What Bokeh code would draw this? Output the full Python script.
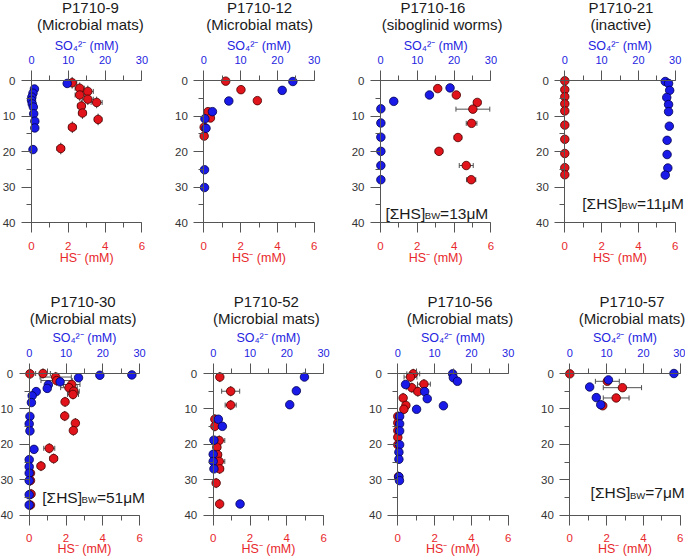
from bokeh.plotting import figure
from bokeh.models import (Range1d, LinearAxis, SingleIntervalTicker, ColumnDataSource,
                          Whisker, TeeHead, Label)
from bokeh.layouts import column, row
from bokeh.embed import file_html
from bokeh.resources import INLINE

FONT = "Liberation Sans"
RED = "#e0141a"
BLUE = "#1a1ae8"
RED_TXT = "#e8282b"
BLUE_TXT = "#2424e0"
AXIS = "#555555"
ERR = "#505050"

# ---------------- data ----------------
titles = ["P1710-9", "P1710-12", "P1710-16", "P1710-21",
          "P1710-30", "P1710-52", "P1710-56", "P1710-57"]
subtitles = ["(Microbial mats)", "(Microbial mats)", "(siboglinid worms)", "(inactive)",
             "(Microbial mats)", "(Microbial mats)", "(Microbial mats)", "(Microbial mats)"]
bw_values = [None, None, "13", "11", "51", None, None, "7"]
hs_title = "HS⁻ (mM)"
so4_title = "SO₄²⁻ (mM)"

# P1710-9
p9_so4 = [9.7, 0.8, 0.4, 0.1, 0.0, 0.2, 0.5, 0.6, 0.9, 0.9, 0.4]
p9_so4_depth = [0.75, 2.3, 3.5, 4.6, 5.5, 6.5, 7.4, 9.3, 11.4, 13.3, 19.4]
p9_hs = [2.21, 2.62, 2.62, 3.06, 3.06, 3.54, 2.71, 2.77, 3.62, 2.22, 1.59]
p9_hs_depth = [0.55, 2.1, 4.0, 3.0, 5.2, 6.1, 7.1, 9.1, 10.9, 13.1, 19.1]
p9_hs_err = [0.25, 0.25, 0.25, 0.3, 0.3, 0.3, 0.2, 0.2, 0.2, 0.2, 0.2]
p9_depth_err = [1.5] * 11

# P1710-12
p12_so4 = [24.2, 21.3, 6.8, 2.35, 0.3, 0.6, 0.2, 0.2]
p12_so4_depth = [0.2, 2.7, 5.7, 8.7, 10.7, 13.4, 25.1, 30.1]
p12_hs = [1.19, 2.02, 2.91, 0.23, 0.36, 0.02, 0.02]
p12_hs_depth = [0.1, 2.5, 5.6, 8.7, 10.5, 13.1, 15.6]
p12_hs_err = [0.0] * 7
p12_depth_err = [0.0] * 7

# P1710-16
p16_so4 = [18.9, 13.3, 3.6, 0.1, 0.1, 0.1, 0.1, 0.1, 0.1]
p16_so4_depth = [2.0, 4.0, 5.8, 7.9, 11.9, 15.9, 19.9, 23.9, 27.9]
p16_hs = [3.11, 4.12, 5.26, 5.02, 4.95, 4.21, 3.18, 4.66, 4.93]
p16_hs_depth = [2.2, 4.0, 6.1, 8.0, 12.0, 16.0, 19.9, 23.9, 27.9]
p16_hs_err = [0.0, 0.0, 0.18, 0.92, 0.29, 0.2, 0.2, 0.38, 0.25]
p16_depth_err = [0.0] * 9

# P1710-21
p21_so4 = [27.3, 28.2, 28.5, 27.7, 28.2, 28.2, 28.4, 27.8, 27.8, 28.0, 27.3]
p21_so4_depth = [0.2, 0.75, 2.7, 4.7, 6.7, 8.7, 12.8, 16.8, 20.8, 24.6, 26.6]
p21_hs = [0.0] * 10
p21_hs_depth = [0.0, 2.5, 4.5, 6.5, 8.5, 12.5, 16.5, 20.5, 24.5, 26.5]
p21_hs_err = [0.0] * 10
p21_depth_err = [0.0] * 10

# P1710-30
p30_so4 = [27.9, 19.2, 13.4, 8.4, 5.2, 4.9, 1.9, 0.8, 0.6, 0.2, 0.0, 0.2, 1.3,
           0.0, 0.0, 0.0, 0.0, 0.0, 0.0]
p30_so4_depth = [0.4, 0.5, 1.2, 2.35, 3.2, 4.2, 5.1, 6.3, 8.2, 12.1, 14.2, 16.2, 21.4,
                 24.3, 26.3, 28.1, 30.2, 34.2, 37.1]
p30_hs = [0.04, 0.75, 1.44, 1.49, 2.31, 2.16, 2.42, 2.38, 1.95, 1.93, 2.51, 2.40,
          1.09, 1.33, 0.64, 0.07, 0.07, 0.10, 0.07]
p30_hs_depth = [0.1, 0.0, 1.0, 2.0, 3.1, 4.0, 5.0, 5.9, 8.0, 12.0, 14.0, 16.1,
                21.1, 24.0, 26.1, 28.1, 30.2, 34.0, 37.1]
p30_hs_err = [0.05, 0.4, 0.85, 0.85, 0.45, 0.45, 0.3, 0.3, 0.15, 0.15, 0.15, 0.15,
              0.3, 0.2, 0.2, 0.1, 0.1, 0.1, 0.1]
p30_depth_err = [1.3] * 19

# P1710-52
p52_so4 = [24.8, 22.6, 20.8, 1.4, 2.5, 0.2, 0.0, 0.0, 0.2, 7.3]
p52_so4_depth = [1.0, 4.9, 8.8, 12.9, 14.9, 18.8, 22.8, 24.8, 26.9, 36.8]
p52_hs = [0.36, 0.95, 0.95, 0.09, 0.09, 0.33, 0.2, 0.24, 0.33, 0.35, 0.16, 0.35]
p52_hs_depth = [1.0, 5.0, 8.9, 12.9, 14.9, 18.9, 20.8, 22.9, 24.8, 26.9, 30.9, 36.8]
p52_hs_err = [0.1, 0.49, 0.3, 0.1, 0.1, 0.3, 0.2, 0.2, 0.3, 0.2, 0.1, 0.1]
p52_depth_err = [1.3] * 12

# P1710-56
p56_so4 = [14.9, 15.1, 16.2, 2.1, 7.3, 8.0, 5.1, 12.4, 0.5, 0.5, 0.5, 0.5,
           0.3, 0.3, 0.3, 0.45]
p56_so4_depth = [0.1, 1.2, 2.2, 3.1, 5.1, 7.1, 10.1, 9.1, 12.1, 14.2, 16.2, 20.1,
                 22.2, 24.2, 29.1, 30.2]
p56_hs = [0.84, 0.69, 1.42, 0.76, 1.09, 0.29, 0.44, 0.33, 0.0, 0.0, 0.0, 0.0, 0.0, 0.04]
p56_hs_depth = [0.1, 1.0, 3.0, 4.0, 5.1, 6.9, 9.0, 10.1, 12.1, 13.9, 16.1, 18.0, 20.1, 29.1]
p56_hs_err = [0.35, 0.35, 0.35, 0.3, 0.2, 0.1, 0.15, 0.1, 0.0, 0.0, 0.0, 0.0, 0.0, 0.0]
p56_depth_err = [1.3] * 14

# P1710-57
p57_so4 = [28.3, 10.5, 5.4, 7.2, 8.4]
p57_so4_depth = [0.0, 1.8, 3.8, 6.8, 8.8]
p57_hs = [0.0, 2.04, 2.86, 2.52, 1.79]
p57_hs_depth = [0.1, 2.2, 4.0, 6.9, 9.1]
p57_hs_err = [0.0, 0.65, 1.04, 0.7, 0.0]
p57_depth_err = [0.0] * 5

panels = [
    (p9_so4, p9_so4_depth, p9_hs, p9_hs_depth, p9_hs_err, p9_depth_err),
    (p12_so4, p12_so4_depth, p12_hs, p12_hs_depth, p12_hs_err, p12_depth_err),
    (p16_so4, p16_so4_depth, p16_hs, p16_hs_depth, p16_hs_err, p16_depth_err),
    (p21_so4, p21_so4_depth, p21_hs, p21_hs_depth, p21_hs_err, p21_depth_err),
    (p30_so4, p30_so4_depth, p30_hs, p30_hs_depth, p30_hs_err, p30_depth_err),
    (p52_so4, p52_so4_depth, p52_hs, p52_hs_depth, p52_hs_err, p52_depth_err),
    (p56_so4, p56_so4_depth, p56_hs, p56_hs_depth, p56_hs_err, p56_depth_err),
    (p57_so4, p57_so4_depth, p57_hs, p57_hs_depth, p57_hs_err, p57_depth_err),
]

# ---------------- layout (pixels) ----------------
SX = 18.4    # px per mM HS
SY = 3.545   # px per depth unit
ROW_H = [278, 279]
D0_REL = [80.3, 95.0]
FIG_W = [[170, 175, 185, 155], [176, 184, 178, 147]]
HS0_REL = [[31.0, 33.3, 35.0, 34.3], [28.7, 36.7, 37.3, 31.3]]
TITLE_X = [(3.2, 3.2), (3.03, 3.03), (2.85, 3.35), (3.05, 3.05),
           (2.93, 2.93), (2.89, 2.89), (3.38, 3.38), (3.38, 3.38)]
TITLE_Y = [(-20.55, -15.85), (-20.3, -15.5)]
AXT_Y = [(-9.95, 49.85), (-10.0, 49.4)]
BW_POS = [None, None, (0.27, 37.5), (0.95, 34.7), (0.71, 34.9), None, None, (1.13, 33.7)]


def make_panel(k):
    r, c = divmod(k, 4)
    W, H = FIG_W[r][c], ROW_H[r]
    hs0 = HS0_REL[r][c]
    x0, x1 = -hs0 / SX, (W - hs0) / SX
    y_top, y_bot = -D0_REL[r] / SY, (H - D0_REL[r]) / SY
    p = figure(width=W, height=H, x_range=Range1d(x0, x1), y_range=Range1d(y_bot, y_top),
               output_backend="svg", toolbar_location=None,
               x_axis_location=None, y_axis_location=None, min_border=0, title=None)
    p.extra_x_ranges = {"so4": Range1d(x0 * 5, x1 * 5)}
    p.outline_line_color = None
    p.background_fill_color = "white"
    p.border_fill_color = "white"
    p.grid.visible = False

    def style(ax, color, size="11.5px"):
        ax.axis_line_color = AXIS
        ax.major_tick_line_color = AXIS
        ax.minor_tick_line_color = AXIS
        ax.major_tick_out = 10
        ax.major_tick_in = 0
        ax.minor_tick_out = 5
        ax.minor_tick_in = 0
        ax.major_label_text_font = FONT
        ax.major_label_text_font_size = size
        ax.major_label_text_color = color

    bx = LinearAxis(fixed_location=40, bounds=(0, 6),
                    ticker=SingleIntervalTicker(interval=2, num_minor_ticks=2))
    style(bx, RED_TXT)
    bx.major_label_standoff = 9
    p.add_layout(bx, "below")

    lx = LinearAxis(fixed_location=0, bounds=(0, 40),
                    ticker=SingleIntervalTicker(interval=10, num_minor_ticks=2))
    style(lx, "#333333")
    lx.major_label_standoff = 6
    p.add_layout(lx, "left")

    tx = LinearAxis(x_range_name="so4", fixed_location=0, bounds=(0, 30),
                    ticker=SingleIntervalTicker(interval=10, num_minor_ticks=2))
    style(tx, BLUE_TXT, "11px")
    tx.major_label_standoff = 7
    p.add_layout(tx, "above")

    so4, so4_d, hs, hs_d, hs_e, d_e = panels[k]
    rsrc = ColumnDataSource(dict(
        hs=hs, depth=hs_d,
        lo=[a - e for a, e in zip(hs, hs_e)], hi=[a + e for a, e in zip(hs, hs_e)],
        dlo=[a - e for a, e in zip(hs_d, d_e)], dhi=[a + e for a, e in zip(hs_d, d_e)]))
    bsrc = ColumnDataSource(dict(so4=so4, depth=so4_d))

    if any(e > 0 for e in hs_e):
        p.add_layout(Whisker(source=rsrc, base="depth", lower="lo", upper="hi",
                             dimension="width", line_color=ERR, line_width=1,
                             upper_head=TeeHead(size=5, line_color=ERR),
                             lower_head=TeeHead(size=5, line_color=ERR)))
    if any(e > 0 for e in d_e):
        p.add_layout(Whisker(source=rsrc, base="hs", lower="dlo", upper="dhi",
                             dimension="height", line_color=ERR, line_width=1,
                             upper_head=TeeHead(size=1, line_color=ERR),
                             lower_head=TeeHead(size=1, line_color=ERR)))

    p.scatter("hs", "depth", source=rsrc, size=8.5, fill_color=RED,
              line_color="#4a0000", line_width=0.8)
    p.scatter("so4", "depth", source=bsrc, x_range_name="so4", size=8.5,
              fill_color=BLUE, line_color="#000050", line_width=0.8)

    # axis titles
    ty, by = AXT_Y[r]
    p.add_layout(Label(x=3, y=ty, text=so4_title, text_align="center",
                       text_baseline="middle", text_font=FONT, text_font_size="12.5px",
                       text_color=BLUE_TXT))
    p.add_layout(Label(x=3, y=by, text=hs_title, text_align="center",
                       text_baseline="middle", text_font=FONT, text_font_size="12.5px",
                       text_color=RED_TXT))

    # panel titles
    tx1, tx2 = TITLE_X[k]
    ty1, ty2 = TITLE_Y[r]
    p.add_layout(Label(x=tx1, y=ty1, text=titles[k], text_align="center",
                       text_baseline="middle", text_font=FONT, text_font_size="15px",
                       text_color="#1a1a1a"))
    p.add_layout(Label(x=tx2, y=ty2, text=subtitles[k], text_align="center",
                       text_baseline="middle", text_font=FONT, text_font_size="15px",
                       text_color="#1a1a1a"))

    if bw_values[k] is not None:
        bxp, byp = BW_POS[k]
        w1 = 2.537 * 15.5 / SX
        w2 = 1.611 * 9.5 / SX
        p.add_layout(Label(x=bxp, y=byp, text="[ΣHS]", text_align="left",
                           text_baseline="alphabetic", text_font=FONT,
                           text_font_size="15.5px", text_color="#1a1a1a"))
        p.add_layout(Label(x=bxp + w1, y=byp + 0.6, text="BW", text_align="left",
                           text_baseline="alphabetic", text_font=FONT,
                           text_font_size="9.5px", text_color="#1a1a1a"))
        p.add_layout(Label(x=bxp + w1 + w2, y=byp, text="=" + bw_values[k] + "μM",
                           text_align="left", text_baseline="alphabetic", text_font=FONT,
                           text_font_size="15.5px", text_color="#1a1a1a"))
    return p


figs = [make_panel(k) for k in range(8)]
layout = column(row(*figs[:4]), row(*figs[4:]))
open("out.html", "w").write(file_html(layout, INLINE))
